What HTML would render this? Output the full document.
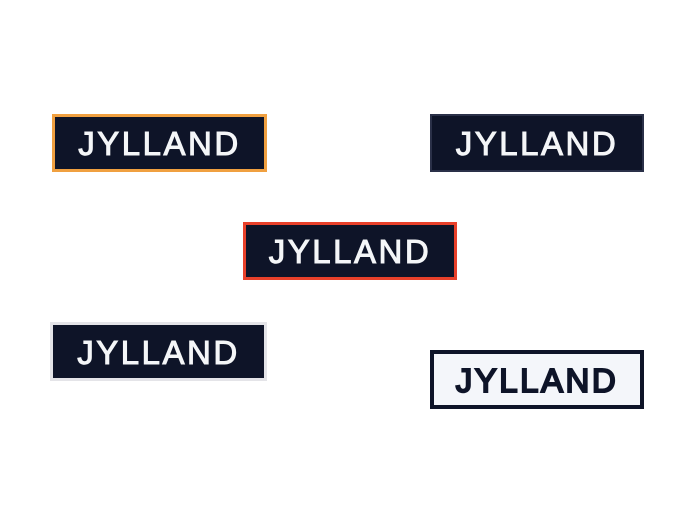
<!DOCTYPE html>
<html><head><style>
body{margin:0;width:700px;height:525px;background:#fff;position:relative;overflow:hidden}
.p{position:absolute;box-sizing:border-box;display:flex;align-items:center;justify-content:center;font-family:"Liberation Sans",sans-serif;font-size:33px;letter-spacing:2.5px;color:#f4f6f8;background:#0e1428;-webkit-text-stroke:1px currentColor;padding-top:2px}
</style></head><body>
<div class="p" style="left:52px;top:114px;width:215px;height:58px;border:3px solid #f0a040">JYLLAND</div>
<div class="p" style="left:430px;top:114px;width:214px;height:58px;border:2px solid #2a3048">JYLLAND</div>
<div class="p" style="left:243px;top:222px;width:214px;height:58px;border:3px solid #e8402a">JYLLAND</div>
<div class="p" style="left:50px;top:322px;width:217px;height:59px;border:3px solid #e4e4e8">JYLLAND</div>
<div class="p" style="left:430px;top:350px;width:214px;height:59px;border:4px solid #0e1428;background:#f4f6fa;color:#0e1428;-webkit-text-stroke:2px #0e1428">JYLLAND</div>
</body></html>
